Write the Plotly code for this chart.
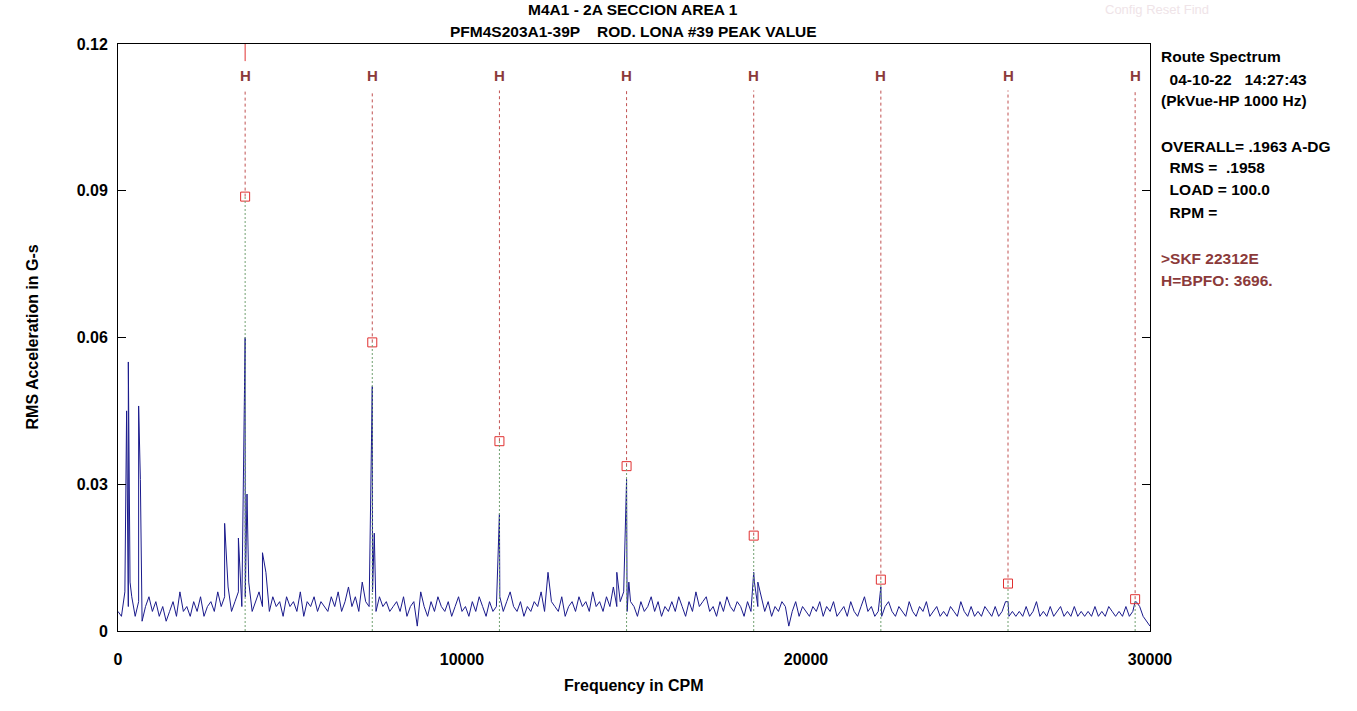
import plotly.graph_objects as go

# spectrum background noise, milli-g, every 100 CPM from 0 to 30000
NOISE_STEP = 100
NOISE_MG = [
    4, 3, 8, 5, 7, 3, 6, 2, 5, 7, 4, 6, 3, 5, 2, 4, 6, 3, 8, 4, 5,
    3, 6, 4, 7, 3, 5, 6, 4, 8, 5, 7, 9, 4, 6, 8, 5, 7, 10, 4, 6,
    8, 5, 12, 4, 7, 5, 6, 3, 7, 5, 6, 4, 8, 3, 6, 5, 7, 4, 6, 5,
    4, 7, 5, 8, 4, 6, 9, 5, 7, 4, 10, 6, 5, 8, 4, 7, 5, 6, 4, 5,
    6, 4, 7, 3, 5, 6, 1, 8, 5, 3, 6, 4, 7, 5, 4, 6, 3, 5, 7, 4,
    5, 3, 6, 4, 7, 5, 3, 6, 4, 5, 7, 4, 6, 8, 5, 4, 6, 3, 5, 4,
    6, 5, 8, 4, 12, 6, 5, 4, 7, 3, 5, 6, 4, 7, 5, 6, 4, 8, 5, 6,
    4, 7, 5, 9, 5, 6, 8, 4, 6, 5, 3, 6, 4, 5, 7, 4, 6, 3, 5, 4,
    6, 4, 7, 5, 3, 6, 4, 8, 5, 6, 7, 4, 5, 3, 6, 4, 7, 5, 4, 6,
    5, 3, 6, 4, 10, 5, 7, 4, 6, 3, 5, 4, 6, 5, 1, 4, 6, 3, 5, 4,
    3, 5, 4, 6, 3, 5, 4, 6, 3, 4, 5, 3, 6, 4, 3, 5, 7, 4, 5, 3,
    4, 3, 5, 6, 4, 3, 5, 4, 3, 6, 4, 3, 5, 4, 6, 3, 4, 5, 3, 4,
    3, 5, 4, 3, 6, 4, 3, 5, 3, 4, 3, 5, 4, 3, 5, 3, 4, 6, 3, 4,
    3, 4, 3, 5, 3, 4, 6, 3, 4, 3, 5, 3, 4, 5, 3, 4, 3, 5, 3, 4,
    3, 4, 3, 5, 3, 4, 3, 5, 4, 3, 4, 3, 5, 3, 4, 6, 5, 3, 2, 1,
]

# discrete spectral peaks, CPM and milli-g
PEAK_CPM = [250, 300, 350, 600, 650, 3100, 3500, 3696, 3750, 4200, 7392, 7450,
            11088, 12500, 14500, 14784, 14850, 18480, 18600, 22176, 25872, 29568]
PEAK_MG = [45, 55, 10, 46, 31, 22, 19, 60, 28, 16, 50, 20,
           24, 12, 12, 31, 10, 12, 10, 9, 6, 6]

# BPFO harmonic cursors and the marked amplitudes
HARM_CPM = [3696, 7392, 11088, 14784, 18480, 22176, 25872, 29568]
HARM_G = [0.0888, 0.0590, 0.0388, 0.0337, 0.0195, 0.0105, 0.0097, 0.0065]

pts = [(i * NOISE_STEP, v) for i, v in enumerate(NOISE_MG)] + list(zip(PEAK_CPM, PEAK_MG))
pts.sort()
spec_x = [p[0] for p in pts]
spec_y = [p[1] / 1000 for p in pts]

BROWN = '#8b3a3a'
FONT = 'Liberation Sans, Arial'
W, H = 1357, 711
# plot box in screenshot pixels: x 118..1150, y 44..631
L, T = 118, 44
R, B = W - 1150, H - 631


def px(x):
    return (x - L) / (W - L - R)


def py(y):
    return 1 - (y - T) / (H - T - B)


fig = go.Figure()
fig.add_trace(go.Scatter(x=spec_x, y=spec_y, mode='lines',
                         line=dict(color='#1a1a8c', width=1), hoverinfo='skip'))
fig.add_trace(go.Scatter(x=HARM_CPM, y=HARM_G, mode='markers',
                         marker=dict(symbol='square-open', size=9, color='#e03030', line=dict(width=1))))

for h, a in zip(HARM_CPM, HARM_G):
    # dashed red above the marker, dotted green below it
    fig.add_shape(type='line', x0=h, x1=h, y0=a, y1=0.1105, xref='x', yref='y',
                  line=dict(color='#c05050', width=1, dash='3px,3px'))
    fig.add_shape(type='line', x0=h, x1=h, y0=0, y1=a, xref='x', yref='y',
                  line=dict(color='#70a070', width=1, dash='2px,2px'))
    fig.add_annotation(x=h, y=0.1135, text='<b>H</b>', showarrow=False, yanchor='middle',
                       font=dict(color=BROWN, size=15, family=FONT))
# active cursor on first harmonic
fig.add_shape(type='line', x0=HARM_CPM[0], x1=HARM_CPM[0], y0=0.1165, y1=0.12, xref='x', yref='y',
              line=dict(color='#e03030', width=1))
fig.add_shape(type='line', x0=HARM_CPM[0], x1=HARM_CPM[0], y0=-0.004, y1=0, xref='x', yref='y',
              line=dict(color='#e03030', width=1))

right_txt = [
    ('<b>Route Spectrum</b>', 'black', 56),
    ('<b>  04-10-22   14:27:43</b>', 'black', 79),
    ('<b>(PkVue-HP 1000 Hz)</b>', 'black', 101),
    ('<b>OVERALL= .1963 A-DG</b>', 'black', 146),
    ('<b>  RMS =  .1958</b>', 'black', 168),
    ('<b>  LOAD = 100.0</b>', 'black', 190),
    ('<b>  RPM =</b>', 'black', 212),
    ('<b>>SKF 22312E</b>', BROWN, 258),
    ('<b>H=BPFO: 3696.</b>', BROWN, 280),
]
for t, c, yy in right_txt:
    fig.add_annotation(x=px(1159), y=py(yy), xref='paper', yref='paper', text=t, showarrow=False,
                       xanchor='left', yanchor='middle', font=dict(color=c, size=15.5, family=FONT))
fig.add_annotation(x=px(1157), y=py(9), xref='paper', yref='paper', text='Config Reset Find',
                   showarrow=False, xanchor='center', yanchor='middle',
                   font=dict(color='#efe4e8', size=13, family=FONT))
fig.add_annotation(x=px(633), y=py(9), xref='paper', yref='paper', text='<b>M4A1 - 2A SECCION AREA 1</b>',
                   showarrow=False, yanchor='middle', font=dict(size=15.5, family=FONT))
fig.add_annotation(x=px(633), y=py(31), xref='paper', yref='paper',
                   text='<b>PFM4S203A1-39P    ROD. LONA #39 PEAK VALUE</b>',
                   showarrow=False, yanchor='middle', font=dict(size=15.5, family=FONT))
fig.add_annotation(x=px(21), y=py(337), xref='paper', yref='paper', text='<b>RMS Acceleration in G-s</b>',
                   showarrow=False, textangle=-90, font=dict(size=16, family=FONT))
fig.add_annotation(x=px(634), y=py(696), xref='paper', yref='paper', text='<b>Frequency in CPM</b>',
                   showarrow=False, font=dict(size=16, family=FONT))

fig.update_layout(
    width=W, height=H,
    margin=dict(l=L, r=R, t=T, b=B),
    paper_bgcolor='white', plot_bgcolor='white', showlegend=False,
    font=dict(family=FONT, size=15, color='black'),
)
fig.update_xaxes(range=[0, 30000], tickvals=[0, 10000, 20000, 30000],
                 ticktext=['<b>0</b>', '<b>10000</b>', '<b>20000</b>', '<b>30000</b>'],
                 showgrid=False, zeroline=False, automargin=False, ticklabelstandoff=14,
                 showline=True, linecolor='black', mirror=True, ticks='', tickfont=dict(size=16))
fig.update_yaxes(range=[0, 0.12], tickvals=[0, 0.03, 0.06, 0.09, 0.12],
                 ticktext=['<b>0</b>', '<b>0.03</b>', '<b>0.06</b>', '<b>0.09</b>', '<b>0.12</b>'],
                 showgrid=False, zeroline=False, showline=True, linecolor='black', mirror='allticks',
                 automargin=False, ticks='inside', ticklen=8, tickcolor='black', tickfont=dict(size=16),
                 ticklabelstandoff=6)
fig.write_html('out.html', config={'displayModeBar': False},
               post_script="document.body.style.margin='0';")
